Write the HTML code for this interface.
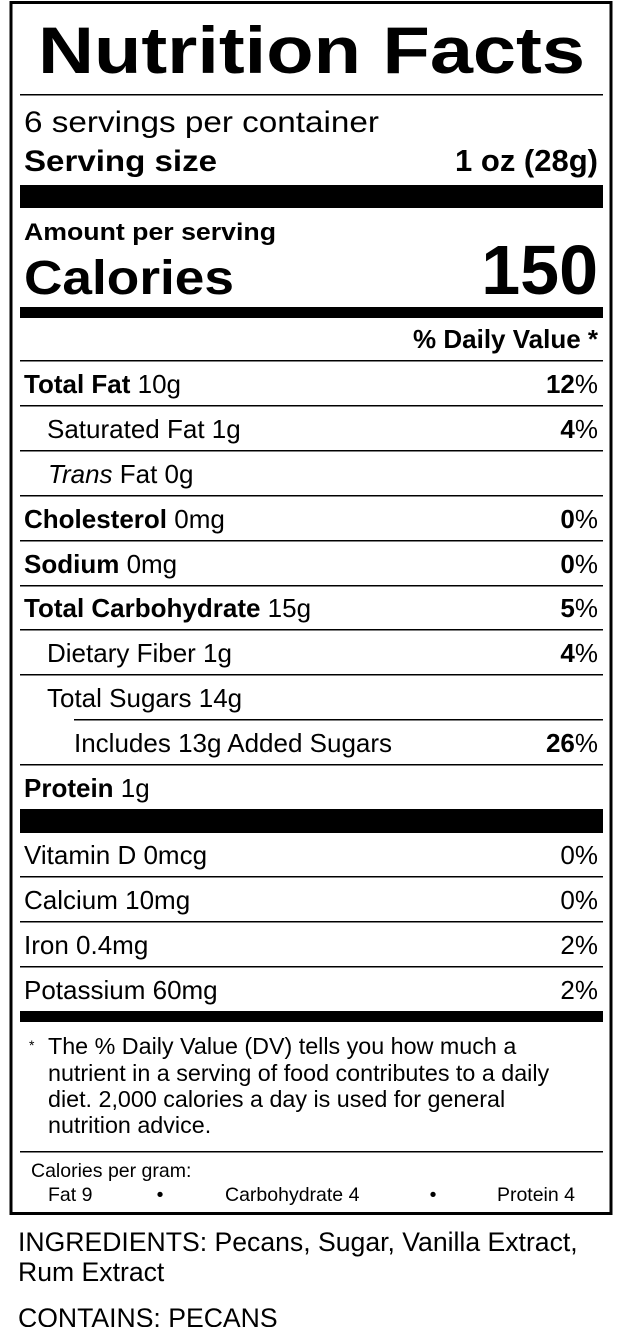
<!DOCTYPE html>
<html><head><meta charset="utf-8"><style>
html,body{margin:0;padding:0;background:#fff;width:620px;height:1327px;overflow:hidden}
svg{display:block}
text{font-family:"Liberation Sans",Arial,sans-serif;fill:#000}
.b{font-weight:bold}
</style></head><body>
<svg width="620" height="1327" viewBox="0 0 620 1327">
<rect x="11" y="2.5" width="600" height="1211" fill="none" stroke="#000" stroke-width="3"/>
<text x="38" y="73" class="b" font-size="66" textLength="547" lengthAdjust="spacingAndGlyphs">Nutrition Facts</text>
<rect x="20" y="94" width="583" height="1.5"/>
<text x="24" y="132" font-size="30" textLength="355" lengthAdjust="spacingAndGlyphs">6 servings per container</text>
<text x="24" y="171" class="b" font-size="30" textLength="193" lengthAdjust="spacingAndGlyphs">Serving size</text>
<text x="598" y="171" class="b" font-size="31" text-anchor="end">1 oz (28g)</text>
<rect x="20" y="185" width="583" height="23"/>
<text x="24" y="240" class="b" font-size="24" textLength="252" lengthAdjust="spacingAndGlyphs">Amount per serving</text>
<text x="24" y="294" class="b" font-size="48" textLength="210" lengthAdjust="spacingAndGlyphs">Calories</text>
<text x="598" y="294" class="b" font-size="70" text-anchor="end">150</text>
<rect x="20" y="307" width="583" height="11"/>
<text x="598" y="348" class="b" font-size="26" text-anchor="end">% Daily Value *</text>
<g fill="#000">
<rect x="20" y="360" width="583" height="1.5"/>
<rect x="20" y="405" width="583" height="1.5"/>
<rect x="20" y="450" width="583" height="1.5"/>
<rect x="20" y="495" width="583" height="1.5"/>
<rect x="20" y="540" width="583" height="1.5"/>
<rect x="20" y="585" width="583" height="1.5"/>
<rect x="20" y="629" width="583" height="1.5"/>
<rect x="20" y="674" width="583" height="1.5"/>
<rect x="74" y="719" width="529" height="1.5"/>
<rect x="20" y="764" width="583" height="1.5"/>
<rect x="20" y="809" width="583" height="24"/>
<rect x="20" y="876" width="583" height="1.5"/>
<rect x="20" y="921" width="583" height="1.5"/>
<rect x="20" y="966" width="583" height="1.5"/>
<rect x="20" y="1011" width="583" height="11"/>
<rect x="20" y="1151" width="583" height="1.5"/>
</g>
<g font-size="26">
<text x="24" y="393"><tspan class="b">Total Fat</tspan> 10g</text>
<text x="598" y="393" text-anchor="end"><tspan class="b">12</tspan>%</text>
<text x="47" y="438">Saturated Fat 1g</text>
<text x="598" y="438" text-anchor="end"><tspan class="b">4</tspan>%</text>
<text x="48" y="483"><tspan font-style="italic">Trans</tspan> Fat 0g</text>
<text x="24" y="528"><tspan class="b">Cholesterol</tspan> 0mg</text>
<text x="598" y="528" text-anchor="end"><tspan class="b">0</tspan>%</text>
<text x="24" y="573"><tspan class="b">Sodium</tspan> 0mg</text>
<text x="598" y="573" text-anchor="end"><tspan class="b">0</tspan>%</text>
<text x="24" y="617"><tspan class="b">Total Carbohydrate</tspan> 15g</text>
<text x="598" y="617" text-anchor="end"><tspan class="b">5</tspan>%</text>
<text x="47" y="662">Dietary Fiber 1g</text>
<text x="598" y="662" text-anchor="end"><tspan class="b">4</tspan>%</text>
<text x="47" y="707">Total Sugars 14g</text>
<text x="74" y="752">Includes 13g Added Sugars</text>
<text x="598" y="752" text-anchor="end"><tspan class="b">26</tspan>%</text>
<text x="24" y="797"><tspan class="b">Protein</tspan> 1g</text>
<text x="24" y="864">Vitamin D 0mcg</text>
<text x="598" y="864" text-anchor="end">0%</text>
<text x="24" y="909">Calcium 10mg</text>
<text x="598" y="909" text-anchor="end">0%</text>
<text x="24" y="954">Iron 0.4mg</text>
<text x="598" y="954" text-anchor="end">2%</text>
<text x="24" y="999">Potassium 60mg</text>
<text x="598" y="999" text-anchor="end">2%</text>
</g>
<g font-size="23.3">
<text x="29" y="1050" font-size="14">*</text>
<text x="48" y="1054">The % Daily Value (DV) tells you how much a</text>
<text x="48" y="1081">nutrient in a serving of food contributes to a daily</text>
<text x="48" y="1107">diet. 2,000 calories a day is used for general</text>
<text x="48" y="1133">nutrition advice.</text>
</g>
<g font-size="19.5">
<text x="31" y="1177">Calories per gram:</text>
<text x="48" y="1201">Fat 9</text>
<text x="160" y="1201" text-anchor="middle">•</text>
<text x="225" y="1201">Carbohydrate 4</text>
<text x="433" y="1201" text-anchor="middle">•</text>
<text x="575" y="1201" text-anchor="end">Protein 4</text>
</g>
<g font-size="26.6">
<text x="18" y="1251">INGREDIENTS: Pecans, Sugar, Vanilla Extract,</text>
<text x="18" y="1281">Rum Extract</text>
<text x="18" y="1327">CONTAINS: PECANS</text>
</g>
</svg>
</body></html>
